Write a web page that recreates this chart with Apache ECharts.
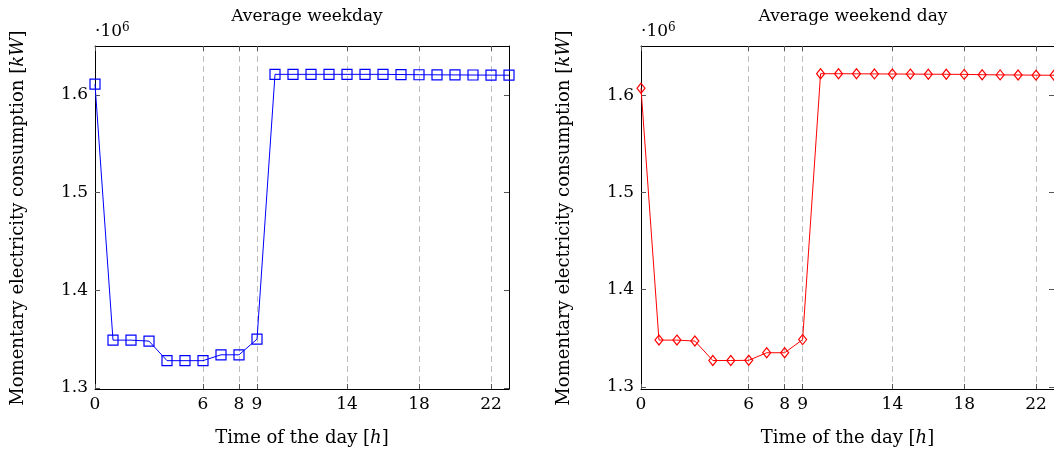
<!DOCTYPE html>
<html>
<head>
<meta charset="utf-8">
<script src="https://cdn.jsdelivr.net/npm/echarts@6/dist/echarts.min.js"></script>
<style>
  html, body { margin: 0; padding: 0; background: #fff; }
  #chart { width: 1054px; height: 456px; }
</style>
</head>
<body>
<div id="chart"></div>
<script>
// Hour of the day (0..23)
const hours = [0,1,2,3,4,5,6,7,8,9,10,11,12,13,14,15,16,17,18,19,20,21,22,23];
// Marked hours on the time axis (with dashed grid lines)
const hourTicks = [0, 6, 8, 9, 14, 18, 22];
// Consumption axis ticks [kW]
const kwTicks = [1300000, 1400000, 1500000, 1600000];

// Momentary electricity consumption [kW], average weekday
const weekday = [1611000, 1349000, 1349000, 1348000, 1328000, 1328000, 1328000, 1334000,
                 1334000, 1350000, 1621000, 1621000, 1621000, 1621000, 1621000, 1621000,
                 1621000, 1620800, 1620600, 1620500, 1620400, 1620300, 1620200, 1620100];
// Momentary electricity consumption [kW], average weekend day
const weekend = [1607000, 1348000, 1348000, 1347000, 1327000, 1327000, 1327200, 1335000,
                 1335000, 1348500, 1622000, 1622000, 1621900, 1621800, 1621700, 1621600,
                 1621500, 1621400, 1621300, 1621000, 1620800, 1620700, 1620500, 1620400];

const FONT = 'DejaVu Serif';
const FS = 17;      // titles and tick labels
const FS_NAME = 18; // axis names
const pairs = (ys) => hours.map((h, i) => [h, ys[i]]);
const italic = { fontFamily: FONT, fontStyle: 'italic', fontSize: FS_NAME, color: '#000' };

function panel(idx, left, yMin, yMax) {
  const grid = { left: left, top: 46, width: 414, height: 343 };
  const frame = { show: true, onZero: false, lineStyle: { color: '#000', width: 1 } };
  const xBottom = {
    gridIndex: idx, type: 'value', min: 0, max: 23, position: 'bottom',
    name: 'Time of the day [{i|h}]', nameLocation: 'middle', nameGap: 40,
    nameTextStyle: { fontFamily: FONT, fontSize: FS_NAME, color: '#000', rich: { i: italic } },
    axisLine: frame,
    axisTick: { show: true, inside: true, length: 5, customValues: hourTicks,
      lineStyle: { color: '#555' } },
    axisLabel: { customValues: hourTicks, margin: 7, fontFamily: FONT, fontSize: FS, color: '#000' },
    splitLine: { show: true, lineStyle: { color: '#bdbdbd', type: [6, 4], width: 1 } }
  };
  const xTop = {
    gridIndex: idx, type: 'value', min: 0, max: 23, position: 'top',
    axisLine: frame,
    axisTick: { show: true, inside: true, length: 5, customValues: hourTicks,
      lineStyle: { color: '#555' } },
    axisLabel: { show: false },
    splitLine: { show: false }
  };
  const yLeft = {
    gridIndex: idx, type: 'value', min: yMin, max: yMax, position: 'left',
    name: '·10{s|6}', nameLocation: 'end', nameGap: 5,
    nameTextStyle: { fontFamily: FONT, fontSize: FS, color: '#000', align: 'left',
      rich: { s: { fontFamily: FONT, fontSize: 12, color: '#000', verticalAlign: 'top', padding: [0, 0, 7, 0] } } },
    axisLine: frame,
    axisTick: { show: true, inside: true, length: 5, customValues: kwTicks,
      lineStyle: { color: '#555' } },
    axisLabel: { customValues: kwTicks, margin: 7, fontFamily: FONT, fontSize: FS, color: '#000',
      formatter: v => (v / 1e6).toFixed(1) },
    splitLine: { show: false }
  };
  const yRight = {
    gridIndex: idx, type: 'value', min: yMin, max: yMax, position: 'right',
    axisLine: frame,
    axisTick: { show: true, inside: true, length: 5, customValues: kwTicks,
      lineStyle: { color: '#555' } },
    axisLabel: { show: false },
    splitLine: { show: false }
  };
  return { grid, xAxes: [xBottom, xTop], yAxes: [yLeft, yRight] };
}

const pL = panel(0, 95, 1299000, 1650000);
const pR = panel(1, 641, 1297700, 1650500);

function yTitle(x) {
  return { type: 'text', x: x, y: 218, rotation: Math.PI / 2,
    style: { text: 'Momentary electricity consumption [{i|kW}]', fontFamily: FONT, fontSize: FS_NAME,
      fill: '#000', align: 'center', verticalAlign: 'middle',
      rich: { i: { fontFamily: FONT, fontStyle: 'italic', fontSize: FS_NAME, fill: '#000' } } } };
}

const titleStyle = { fontFamily: FONT, fontSize: FS, fontWeight: 'normal', color: '#000' };

const option = {
  backgroundColor: '#fff',
  animation: false,
  title: [
    { text: 'Average weekday', left: 302, top: 3, textAlign: 'center', textStyle: titleStyle },
    { text: 'Average weekend day', left: 848, top: 3, textAlign: 'center', textStyle: titleStyle }
  ],
  graphic: [yTitle(18), yTitle(564)],
  grid: [pL.grid, pR.grid],
  xAxis: [...pL.xAxes, ...pR.xAxes],
  yAxis: [...pL.yAxes, ...pR.yAxes],
  series: [
    { name: 'Average weekday', type: 'line', xAxisIndex: 0, yAxisIndex: 0,
      data: pairs(weekday), symbol: 'rect', symbolSize: 10, showAllSymbol: true,
      lineStyle: { color: '#0000ff', width: 1 },
      itemStyle: { color: 'rgba(255,255,255,0)', borderColor: '#0000ff', borderWidth: 1.2 } },
    { name: 'Average weekend day', type: 'line', xAxisIndex: 2, yAxisIndex: 2,
      data: pairs(weekend), symbol: 'diamond', symbolSize: [8, 10], showAllSymbol: true,
      lineStyle: { color: '#ff0000', width: 1 },
      itemStyle: { color: 'rgba(255,255,255,0)', borderColor: '#ff0000', borderWidth: 1.2 } }
  ]
};

const chart = echarts.init(document.getElementById('chart'), null, { renderer: 'canvas' });
chart.setOption(option);
</script>
</body>
</html>
